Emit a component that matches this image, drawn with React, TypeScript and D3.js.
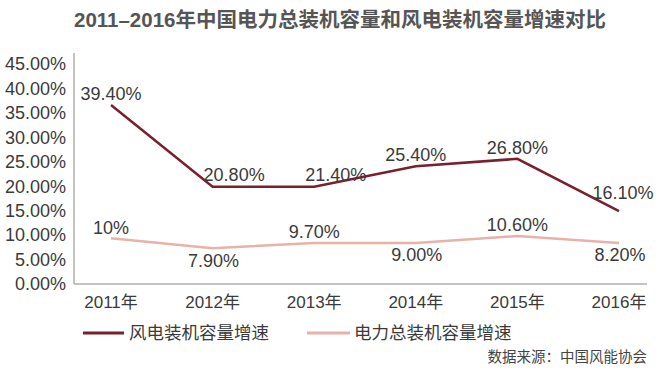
import React from "react";
import * as d3 from "d3";

const years = ["2011年", "2012年", "2013年", "2014年", "2015年", "2016年"];
// values as drawn in the picture
const windValues = [36.6, 19.9, 19.9, 24.1, 25.6, 14.9];
const powerValues = [9.35, 7.3, 8.4, 8.4, 9.8, 8.4];
// data label texts
const windLabels = ["39.40%", "20.80%", "21.40%", "25.40%", "26.80%", "16.10%"];
const powerLabels = ["10%", "7.90%", "9.70%", "9.00%", "10.60%", "8.20%"];
const windLabelSide = ["above", "aboveRight", "aboveRight", "above", "above", "highAbove"];
const powerLabelSide = ["above", "below", "above", "below", "above", "below"];
const yTicks = [0, 5, 10, 15, 20, 25, 30, 35, 40, 45];
const seriesNames = ["风电装机容量增速", "电力总装机容量增速"];
const title = "2011–2016年中国电力总装机容量和风电装机容量增速对比";
const source = "数据来源：中国风能协会";

const W = 669;
const H = 383;
const FONT = "'Liberation Sans', Arial, 'Noto Sans CJK SC', sans-serif";
const WIND = "#7a1f2e";
const POWER = "#e8b2a8";
const TEXT = "#3a3a3a";

const placement: Record<string, { dx: number; dy: number; anchor: string }> = {
  above: { dx: 0, dy: -11, anchor: "middle" },
  aboveRight: { dx: -9, dy: -12, anchor: "start" },
  highAbove: { dx: 4, dy: -18, anchor: "middle" },
  below: { dx: 1, dy: 12, anchor: "middle" },
};

export default function App() {
  const x = d3.scalePoint<string>().domain(years).range([111, 619]);
  const y = d3.scaleLinear().domain([0, 45]).range([284, 64]);
  const line = d3
    .line<number>()
    .x((_, i) => x(years[i]) as number)
    .y((d) => y(d));

  const axisLeft = 74;
  const axisRight = 647;
  const axisTop = 53;

  const renderLabels = (labels: string[], values: number[], sides: string[], key: string) =>
    labels.map((l, i) => {
      const p = placement[sides[i]];
      return (
        <text
          key={key + i}
          x={(x(years[i]) as number) + p.dx}
          y={y(values[i]) + p.dy}
          dy="0.35em"
          textAnchor={p.anchor as any}
          fontSize={18}
          fill={TEXT}
        >
          {l}
        </text>
      );
    });

  return (
    <svg
      width={W}
      height={H}
      style={{ position: "absolute", left: 0, top: 0, background: "#fff" }}
      fontFamily={FONT}
    >
      <text
        x={340}
        y={27}
        textAnchor="middle"
        fontSize={20.5}
        fontWeight="bold"
        fill="#555"
      >
        {title}
      </text>

      {/* axes */}
      <line x1={axisLeft} x2={axisLeft} y1={axisTop} y2={y(0)} stroke="#888" strokeWidth={1} />
      <line x1={axisLeft} x2={axisRight} y1={y(0)} y2={y(0)} stroke="#888" strokeWidth={1} />

      {yTicks.map((t) => (
        <text
          key={t}
          x={66}
          y={y(t)}
          dy="0.35em"
          textAnchor="end"
          fontSize={18}
          fill={TEXT}
        >
          {t.toFixed(2) + "%"}
        </text>
      ))}

      {years.map((yr) => (
        <text
          key={yr}
          x={x(yr) as number}
          y={302}
          dy="0.35em"
          textAnchor="middle"
          fontSize={17}
          fill={TEXT}
        >
          {yr}
        </text>
      ))}

      <path d={line(powerValues) || ""} fill="none" stroke={POWER} strokeWidth={2.5} />
      <path d={line(windValues) || ""} fill="none" stroke={WIND} strokeWidth={2.5} />

      {renderLabels(windLabels, windValues, windLabelSide, "w")}
      {renderLabels(powerLabels, powerValues, powerLabelSide, "p")}

      {/* legend */}
      <line x1={83} x2={124} y1={333} y2={333} stroke={WIND} strokeWidth={3} />
      <text x={129} y={333} dy="0.35em" fontSize={17.5} fill={TEXT}>
        {seriesNames[0]}
      </text>
      <line x1={307} x2={350} y1={333} y2={333} stroke={POWER} strokeWidth={3} />
      <text x={354} y={333} dy="0.35em" fontSize={17.5} fill={TEXT}>
        {seriesNames[1]}
      </text>

      <text x={647} y={357} dy="0.35em" textAnchor="end" fontSize={14.5} fill="#444">
        {source}
      </text>
    </svg>
  );
}
